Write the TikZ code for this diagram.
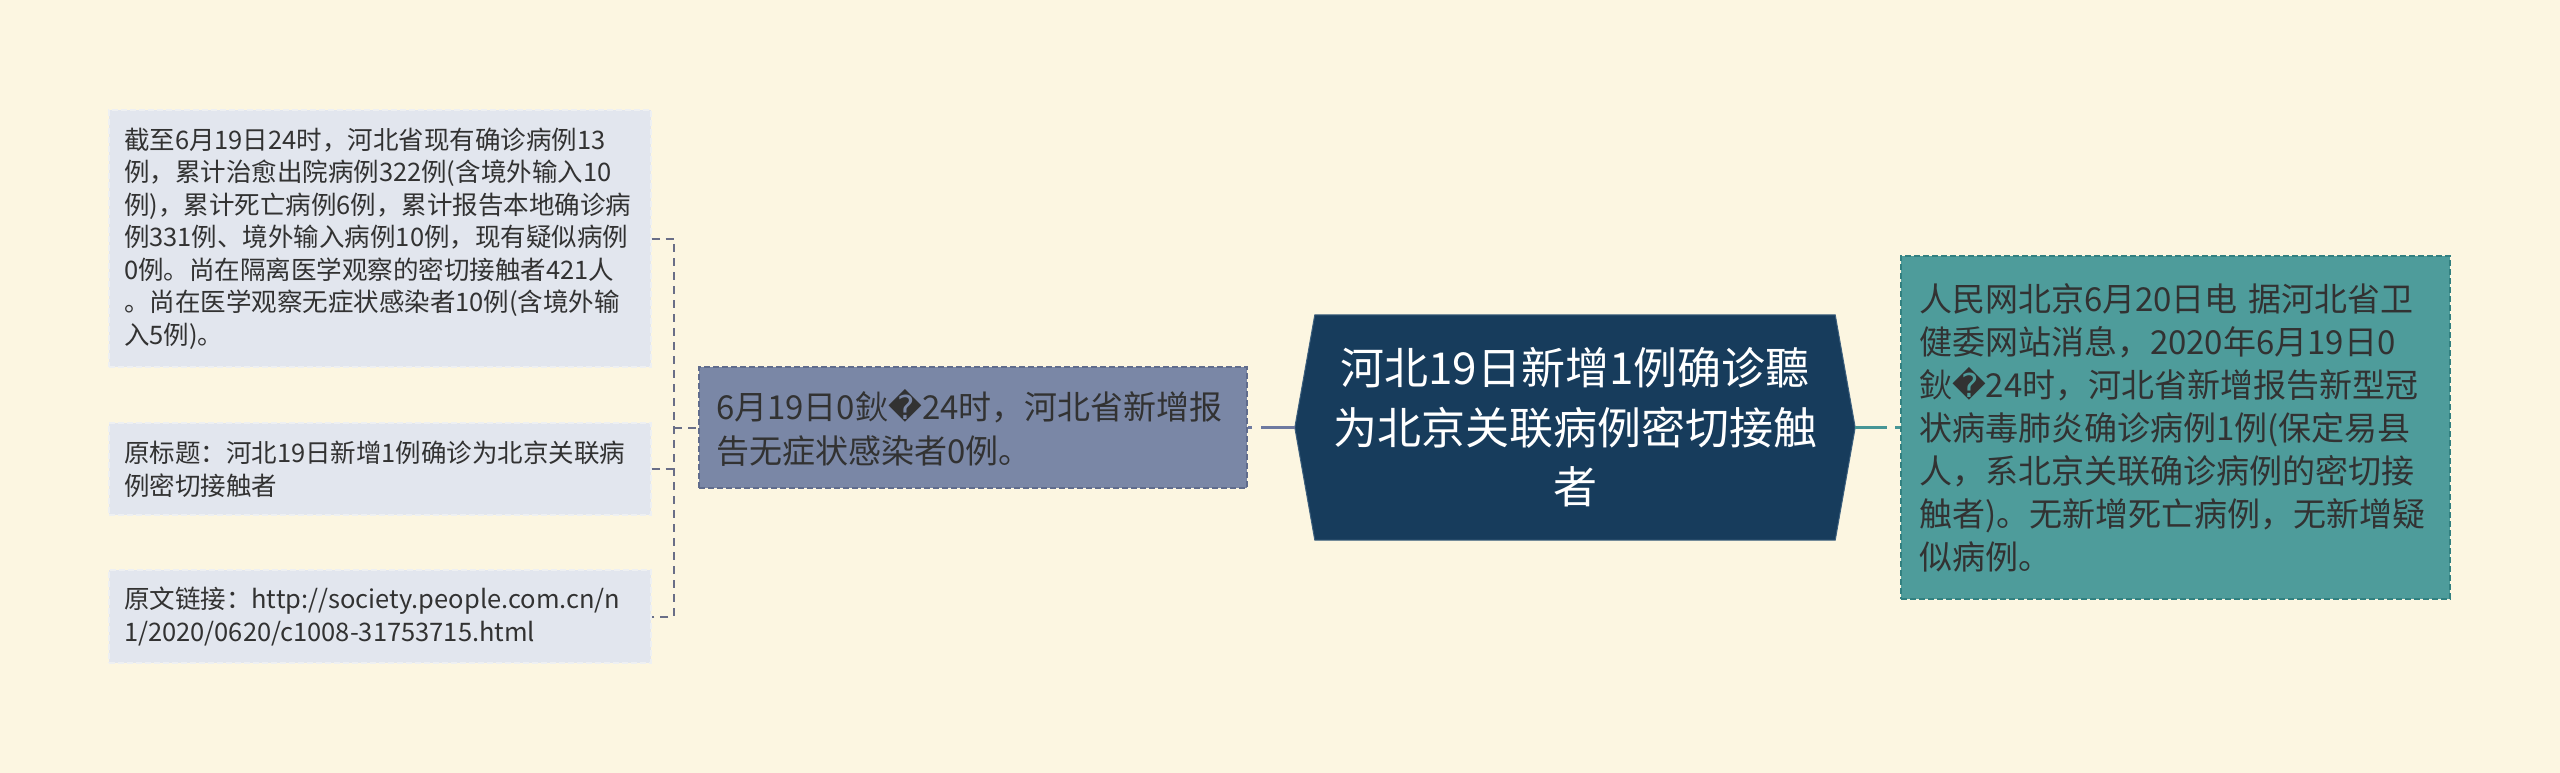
\documentclass[tikz,border=0pt]{standalone}
\usepackage{fontspec}
\setmainfont{Noto Sans CJK SC}
\newfontfamily\replfont{DejaVu Sans}
\definecolor{bgcol}{RGB}{252,246,225}
\definecolor{leaffill}{RGB}{226,230,238}
\definecolor{leafborder}{RGB}{238,240,242}
\definecolor{midfill}{RGB}{122,135,166}
\definecolor{midborder}{RGB}{96,108,140}
\definecolor{hexfill}{RGB}{23,60,92}
\definecolor{hexborder}{RGB}{60,95,125}
\definecolor{rfill}{RGB}{78,156,155}
\definecolor{rborder}{RGB}{50,128,128}
\definecolor{textdark}{RGB}{50,50,50}
\definecolor{brkcol}{RGB}{105,110,135}
\definecolor{conmidcol}{RGB}{110,122,160}
\definecolor{conrcol}{RGB}{70,150,150}
\tikzset{
  leafbox/.style={draw=leafborder, dash pattern=on 6pt off 3pt, line width=1.2pt,
    fill=leaffill, text=textdark, minimum width=542pt, text width=512pt,
    inner xsep=15pt, inner ysep=0pt, align=left,
    font=\fontsize{25.5}{32.5}\selectfont},
  midbox/.style={draw=midborder, dash pattern=on 6pt off 3pt, line width=1.5pt,
    fill=midfill, text=textdark, minimum width=548pt, minimum height=121pt,
    text width=514pt, inner xsep=17pt, inner ysep=0pt, align=left,
    font=\fontsize{33}{44}\selectfont},
  rightbox/.style={draw=rborder, dash pattern=on 6pt off 3pt, line width=1.5pt,
    fill=rfill, text=textdark, minimum width=549pt, minimum height=343pt,
    text width=513pt, inner xsep=18pt, inner ysep=0pt, align=left,
    font=\fontsize{33}{43}\selectfont},
  hexframe/.style={draw=none, minimum width=560pt, minimum height=225pt, inner sep=0pt},
  hextext/.style={text=white, align=center, inner sep=0pt,
    font=\fontsize{44}{59.5}\selectfont},
  brkline/.style={draw=brkcol, line width=2pt, dash pattern=on 8pt off 6pt},
  conmid/.style={draw=conmidcol, line width=3.2pt, dash pattern=on 34pt off 9pt},
  conright/.style={draw=conrcol, line width=3.2pt, dash pattern=on 32pt off 8pt},
}
\begin{document}
\begin{tikzpicture}[x=1pt,y=-1pt]
\useasboundingbox (0,0) rectangle (2560,773);
\fill[bgcol] (0,0) rectangle (2560,773);

% left leaves
\node[leafbox, minimum height=257pt] (b1) at (380,238.5) {截至6月19日24时，河北省现有确诊病例13\\例，累计治愈出院病例322例(含境外输入10\\例)，累计死亡病例6例，累计报告本地确诊病\\例331例、境外输入病例10例，现有疑似病例\\0例。尚在隔离医学观察的密切接触者421人\\。尚在医学观察无症状感染者10例(含境外输\\入5例)。};
\node[leafbox, minimum height=92pt] (b2) at (380,469) {原标题：河北19日新增1例确诊为北京关联病\\例密切接触者};
\node[leafbox, minimum height=93pt] (b3) at (380,616.5) {原文链接：http://society.people.com.cn/n\\1/2020/0620/c1008-31753715.html};

% middle box
\node[midbox] (mid) at (973,427.5) {6月19日0鈥{\replfont �}24时，河北省新增报\\告无症状感染者0例。};

% central hexagon
\node[hexframe] (hex) at (1575,427.5) {};
\filldraw[fill=hexfill, draw=hexborder, line width=1pt]
  (hex.west) -- ([xshift=20pt]hex.north west) -- ([xshift=-20pt]hex.north east)
  -- (hex.east) -- ([xshift=-20pt]hex.south east) -- ([xshift=20pt]hex.south west) -- cycle;
\node[hextext] (hext) at (hex.center) {河北19日新增1例确诊聽\\为北京关联病例密切接触\\者};

% right box
\node[rightbox] (rbox) at (2175.5,427.5) {人民网北京6月20日电 据河北省卫\\健委网站消息，2020年6月19日0\\鈥{\replfont �}24时，河北省新增报告新型冠\\状病毒肺炎确诊病例1例(保定易县\\人，系北京关联确诊病例的密切接\\触者)。无新增死亡病例，无新增疑\\似病例。};

% connectors
\coordinate (brk) at (674,427.5);
\draw[brkline] (b1.east) -| (brk) |- (b3.east);
\draw[brkline] (b2.east) -- (b2.east -| brk);
\draw[brkline] (brk) -- (mid.west);
\draw[conmid] (hex.west) -- (mid.east);
\draw[conright] (hex.east) -- (rbox.west);
\end{tikzpicture}
\end{document}
